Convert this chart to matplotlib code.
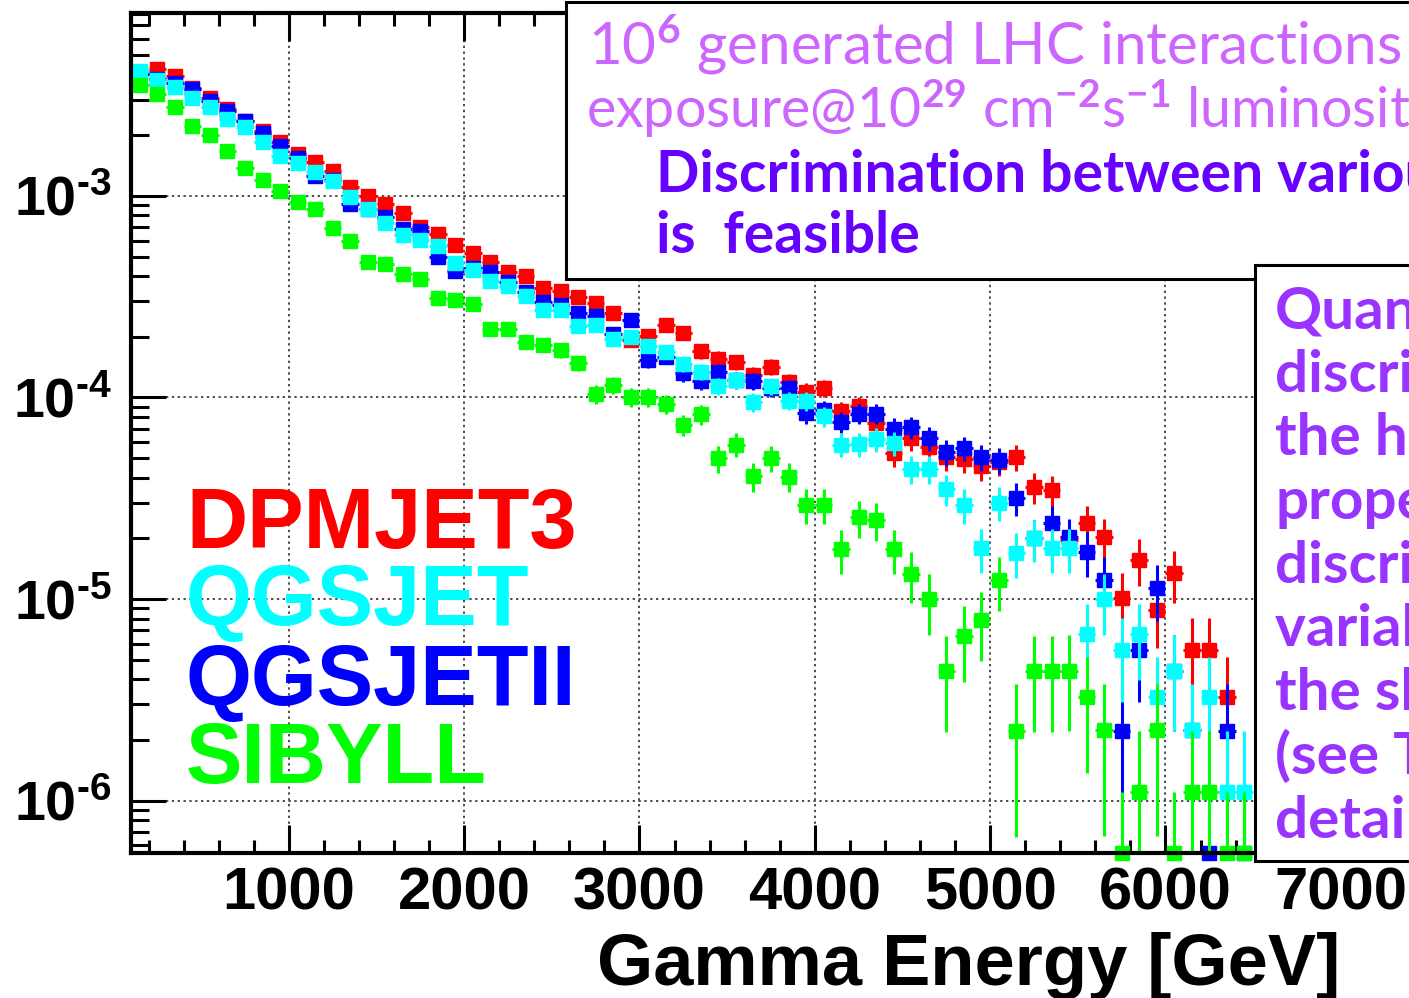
import numpy as np
import matplotlib
matplotlib.use("Agg")
import matplotlib.pyplot as plt
from matplotlib.patches import Rectangle
from matplotlib.ticker import MultipleLocator, LogLocator, NullFormatter, FuncFormatter

plt.rcParams["font.family"] = "Liberation Sans"
plt.rcParams["font.weight"] = "bold"
plt.rcParams["mathtext.fontset"] = "custom"
plt.rcParams["mathtext.bf"] = "Liberation Sans:bold"
plt.rcParams["mathtext.rm"] = "Lato"
plt.rcParams["mathtext.it"] = "Lato:italic"

# gamma energy histogram, 100 GeV bins between 100 and 6500 GeV
bin_w = 100
energy = np.arange(150, 6500, bin_w)

nan = np.nan
# 0 = empty bin (ROOT draws it on the frame bottom)
dpmjet3 = [nan, 4.27e-3, 3.94e-3, 3.42e-3, 3.05e-3, 2.69e-3, 2.36e-3, 2.10e-3, 1.84e-3, 1.61e-3,
           1.47e-3, 1.33e-3, 1.11e-3, 1.00e-3, 9.13e-4, 8.26e-4, 7.04e-4, 6.45e-4, 5.71e-4, 5.19e-4,
           4.72e-4, 4.21e-4, 4.01e-4, 3.48e-4, 3.39e-4, 3.15e-4, 2.93e-4, 2.61e-4, 1.93e-4, 2.02e-4,
           2.29e-4, 2.08e-4, 1.69e-4, 1.56e-4, 1.50e-4, 1.29e-4, 1.42e-4, 1.19e-4, 1.065e-4, 1.11e-4,
           8.57e-5, 9.08e-5, 7.47e-5, 5.30e-5, 6.26e-5, 5.68e-5, 5.08e-5, 4.95e-5, 4.57e-5, 4.79e-5,
           5.07e-5, 3.58e-5, 3.48e-5, 1.96e-5, 2.38e-5, 2.02e-5, 1.01e-5, 1.57e-5, 8.82e-6, 1.34e-5,
           5.58e-6, 5.58e-6, 3.27e-6, nan]
qgsjet = [4.14e-3, 3.77e-3, 3.46e-3, 3.05e-3, 2.77e-3, 2.40e-3, 2.19e-3, 1.84e-3, 1.57e-3, 1.45e-3,
          1.32e-3, 1.18e-3, 9.92e-4, 8.59e-4, 7.37e-4, 6.40e-4, 6.05e-4, 5.65e-4, 4.63e-4, 4.29e-4,
          3.76e-4, 3.57e-4, 3.19e-4, 2.73e-4, 2.73e-4, 2.26e-4, 2.29e-4, 1.94e-4, 2.00e-4, 1.80e-4,
          1.68e-4, 1.46e-4, 1.34e-4, 1.14e-4, 1.22e-4, 9.53e-5, 1.14e-4, 9.65e-5, 9.61e-5, 8.05e-5,
          5.84e-5, 5.88e-5, 6.20e-5, 5.93e-5, 4.40e-5, 4.40e-5, 3.50e-5, 2.93e-5, 1.785e-5, 3.01e-5,
          1.70e-5, 2.00e-5, 1.785e-5, 1.785e-5, 6.70e-6, 9.97e-6, 5.58e-6, 6.70e-6, 3.27e-6, 4.41e-6,
          2.24e-6, 3.27e-6, 1.106e-6, 1.106e-6]
qgsjet2 = [4.12e-3, 3.81e-3, 3.64e-3, 3.40e-3, 2.96e-3, 2.62e-3, 2.36e-3, 2.05e-3, 1.76e-3, 1.54e-3,
           1.25e-3, 1.20e-3, 9.13e-4, 8.62e-4, 7.89e-4, 6.86e-4, 6.73e-4, 5.00e-4, 4.26e-4, 4.39e-4,
           4.20e-4, 3.74e-4, 3.34e-4, 2.99e-4, 2.88e-4, 2.61e-4, 2.53e-4, 2.07e-4, 2.42e-4, 1.53e-4,
           1.59e-4, 1.32e-4, 1.21e-4, 1.34e-4, 1.22e-4, 1.21e-4, 1.12e-4, 1.11e-4, 8.38e-5, 8.67e-5,
           7.58e-5, 8.31e-5, 8.31e-5, 6.99e-5, 7.11e-5, 6.27e-5, 5.36e-5, 5.60e-5, 5.07e-5, 4.90e-5,
           3.16e-5, 2.01e-5, 2.38e-5, 2.02e-5, 1.72e-5, 1.25e-5, 2.21e-6, 5.58e-6, 1.13e-5, 4.41e-6,
           2.24e-6, 0, 2.21e-6, 0]
sibyll = [3.56e-3, 3.21e-3, 2.76e-3, 2.23e-3, 2.01e-3, 1.66e-3, 1.37e-3, 1.20e-3, 1.06e-3, 9.37e-4,
          8.59e-4, 6.91e-4, 6.00e-4, 4.67e-4, 4.60e-4, 4.10e-4, 3.86e-4, 3.10e-4, 3.03e-4, 2.91e-4,
          2.18e-4, 2.18e-4, 1.89e-4, 1.83e-4, 1.71e-4, 1.48e-4, 1.04e-4, 1.15e-4, 1.006e-4, 1.006e-4,
          9.32e-5, 7.30e-5, 8.23e-5, 4.98e-5, 5.84e-5, 4.08e-5, 4.99e-5, 4.05e-5, 2.93e-5, 2.93e-5,
          1.765e-5, 2.54e-5, 2.47e-5, 1.765e-5, 1.335e-5, 9.97e-6, 4.39e-6, 6.59e-6, 7.90e-6, 1.243e-5,
          2.22e-6, 4.39e-6, 4.39e-6, 4.41e-6, 3.27e-6, 2.24e-6, 0, 1.106e-6, 2.24e-6, 0,
          1.106e-6, 1.106e-6, 0, 0]

models = ["DPMJET3", "QGSJET", "QGSJETII", "SIBYLL"]
colors = {"DPMJET3": "#ff0000", "QGSJET": "#00ffff", "QGSJETII": "#0000ff", "SIBYLL": "#00ff00"}
series = {"DPMJET3": dpmjet3, "QGSJET": qgsjet, "QGSJETII": qgsjet2, "SIBYLL": sibyll}
draw_order = ["DPMJET3", "QGSJETII", "QGSJET", "SIBYLL"]

# weight of a single event (level of the lowest filled bins)
w_event = 1.1e-6
ylo, yhi = 5.5e-7, 8.1e-3

fig = plt.figure(figsize=(14.09, 9.98), dpi=100)
ax = fig.add_axes([0.0930, 0.1453, 0.8835, 0.8420])

for name in draw_order:
    v = np.array(series[name], dtype=float)
    ok = ~np.isnan(v)
    e, v = energy[ok], v[ok]
    err = np.sqrt(np.maximum(v, w_event) * w_event)  # poisson errors
    y = np.where(v > 0, v, ylo)
    lo = np.where(v > 0, np.minimum(err, v), 0)
    hi = np.where(v > 0, err, w_event - ylo)
    c = colors[name]
    ax.errorbar(e, y, yerr=[lo, hi], xerr=bin_w / 2, fmt="none", ecolor=c,
                elinewidth=2.2, capsize=0)
    ax.plot(e, y, "s", ms=10, color=c, mec=c, clip_on=False)

ax.set_xlim(100, 7200)
ax.set_yscale("log")
ax.set_ylim(ylo, yhi)
ax.xaxis.set_major_locator(MultipleLocator(1000))
ax.xaxis.set_minor_locator(MultipleLocator(200))
ax.yaxis.set_major_locator(LogLocator(base=10, numticks=20))
ax.yaxis.set_minor_locator(LogLocator(base=10, subs=np.arange(2, 10), numticks=20))
ax.yaxis.set_minor_formatter(NullFormatter())
# ROOT writes the exponent with a short hyphen
ax.yaxis.set_major_formatter(FuncFormatter(
    lambda y, p: r"$\mathbf{10^{" + "\u2010" + "%d}}$" % abs(round(np.log10(y)))))

ax.tick_params(axis="both", which="both", direction="in", top=True, right=True, width=2.2)
ax.tick_params(axis="x", which="major", length=20, labelsize=43, pad=10)
ax.tick_params(axis="x", which="minor", length=9.5)
ax.tick_params(axis="y", which="major", length=25, labelsize=40, pad=14)
ax.tick_params(axis="y", which="minor", length=13)
for s in ax.spines.values():
    s.set_linewidth(3)
ax.grid(True, which="major", color="0.3", linestyle=(0, (1.2, 1.8)), linewidth=1.4)

fig.text(0.951, 0.013, "Gamma Energy [GeV]", ha="right", va="baseline", fontsize=52)

# model names written inside the frame
label_y = [0.4509, 0.3737, 0.2936, 0.2154]
for name, yy in zip(models, label_y):
    fig.text(0.1320, yy, name, color=colors[name], fontsize=61, va="baseline")

# upper comment box
fig.add_artist(Rectangle((0.4017, 0.7204), 0.7, 0.2776, transform=fig.transFigure,
                         fc="white", ec="black", lw=2.2, zorder=5))
fig.text(0.4173, 0.9349, r"10$^{6}$ generated LHC interactions", family="Lato",
         weight="normal", fontsize=42, color="#cc66ff", va="baseline", zorder=6)
fig.text(0.4159, 0.8717, r"exposure@10$^{29}$ cm$^{-2}$s$^{-1}$ luminosity", family="Lato",
         weight="normal", fontsize=40, color="#cc66ff", va="baseline", zorder=6)
fig.text(0.4656, 0.8076, "Discrimination between various models", family="Lato",
         weight="bold", fontsize=41, color="#6600ff", va="baseline", zorder=6)
fig.text(0.4656, 0.7465, "is  feasible", family="Lato",
         weight="bold", fontsize=41, color="#6600ff", va="baseline", zorder=6)

# right comment box
fig.add_artist(Rectangle((0.8907, 0.1373), 0.2, 0.5972, transform=fig.transFigure,
                         fc="white", ec="black", lw=2.2, zorder=5))
box_lines = ["Quantitative", "discrimination with", "the help of", "properly",
             "discriminating", "variables based on", "the shower", "(see Table for", "details)"]
for i, txt in enumerate(box_lines):
    fig.text(0.9049, 1 - (328 + 63.7 * i) / 998, txt, family="Lato", weight="bold",
             fontsize=42, color="#9933ff", va="baseline", zorder=6)

fig.savefig("out.png", dpi=100)
